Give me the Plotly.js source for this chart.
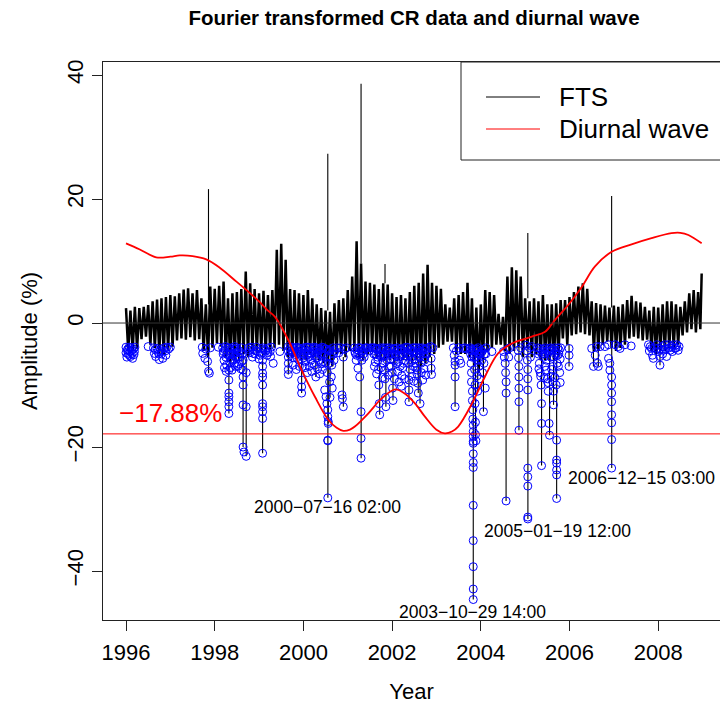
<!DOCTYPE html>
<html><head><meta charset="utf-8">
<script src="https://cdn.plot.ly/plotly-3.0.1.min.js"></script>
<style>html,body{margin:0;padding:0;background:#fff}#chart{width:720px;height:704px}</style>
</head><body><div id="chart"></div>
<script>
// FTS hourly series summarised per 0.1-year bin (upper / lower envelope)
const binStartYear = 1996.0;
const binStep = 0.1;
const ftsHigh = [2.4,2.0,2.6,2.4,2.6,2.9,3.5,3.8,4.0,4.2,
 4.5,4.3,4.8,5.4,5.6,4.8,5.3,4.0,3.0,5.9,
 5.5,6.0,6.7,4.0,4.8,5.0,5.5,8.3,6.4,5.5,
 4.8,5.2,4.5,5.3,11.8,12.8,10.2,5.5,5.3,4.8,
 4.5,5.3,4.0,3.0,2.4,2.0,1.8,3.2,3.7,4.0,
 5.3,7.5,13.2,9.6,6.7,6.5,6.2,5.5,6.4,6.2,
 4.8,4.2,4.5,4.0,5.0,6.0,6.5,8.0,9.4,6.5,
 6.0,5.5,3.0,2.5,4.0,4.5,5.0,6.5,4.0,2.5,
 3.0,5.3,5.0,4.5,1.5,1.0,7.5,9.0,8.5,7.5,
 4.0,3.5,4.0,3.5,4.5,3.0,3.0,3.2,3.7,3.7,
 4.2,5.0,5.9,6.4,5.5,3.5,3.2,3.0,2.8,2.5,
 2.8,2.6,3.0,3.7,4.4,3.5,3.3,2.6,2.0,2.6,
 2.5,3.0,3.5,3.5,3.0,2.6,3.5,4.8,5.3,5.0];
const ftsLow = [-4.5,-4.5,-4.2,-2.6,-2.2,-3.5,-4.0,-5.0,-5.0,-4.3,
 -3.8,-2.8,-2.5,-2.7,-2.3,-2.8,-2.6,-4.5,-5.5,-4.0,
 -3.2,-3.8,-5.5,-6.5,-6.0,-6.0,-5.0,-5.5,-4.5,-4.8,
 -4.5,-5.0,-4.3,-4.0,-3.5,-4.5,-5.5,-5.5,-5.5,-5.5,
 -6.0,-5.0,-5.5,-6.0,-6.5,-7.0,-7.0,-5.0,-5.0,-5.5,
 -4.5,-4.5,-5.5,-6.0,-5.0,-4.5,-5.5,-6.0,-6.0,-6.0,
 -6.5,-6.0,-6.0,-6.0,-6.5,-6.0,-7.0,-6.5,-5.5,-5.0,
 -4.0,-3.5,-3.0,-3.0,-5.0,-5.0,-5.0,-5.5,-7.0,-8.0,
 -6.0,-4.5,-4.0,-3.5,-3.5,-4.5,-5.0,-4.5,-4.0,-5.5,
 -4.0,-5.5,-5.0,-6.0,-6.0,-6.0,-6.0,-5.5,-2.5,-3.5,
 -2.0,-1.8,-1.5,-1.8,-2.0,-4.5,-4.5,-3.5,-3.0,-4.0,
 -4.5,-4.0,-3.5,-2.5,-2.2,-2.5,-2.8,-2.7,-4.5,-5.0,
 -4.5,-4.5,-4.0,-4.0,-3.5,-2.0,-1.5,-1.0,-1.5,-1.0];
const ftsLastYear = 2008.98;
const ftsLastValue = 8.0;

// isolated upward spikes
const spikeYears  = [1997.86, 2000.55, 2001.30, 2001.84, 2005.06, 2006.95];
const spikeValues = [21.6, 27.3, 38.6, 9.5, 14.5, 20.5];

// downward excursions
const dipYears  = [1997.862,1998.32,1998.64,1998.71,1999.08,1999.66,1999.96,2000.28,2000.552,2000.56,2000.60,2000.90,2001.302,2001.72,2001.86,2002.02,2002.38,2002.59,2002.63,2002.89,2003.42,2003.83,2003.88,2003.93,2004.06,2004.57,2004.86,2005.062,2005.37,2005.55,2005.64,2005.71,2005.99,2006.54,2006.65,2006.952,2008.04];
const dipValues = [-8.1,-14.6,-20.0,-21.5,-21.0,-8.3,-11.3,-8.7,-28.2,-16.2,-12.0,-13.5,-21.8,-14.8,-13.5,-12.5,-12.7,-11.3,-13.0,-8.3,-13.5,-44.6,-19.0,-11.0,-14.3,-28.7,-17.3,-31.6,-23.0,-18.1,-13.2,-28.3,-7.0,-7.0,-7.0,-23.4,-6.8];

// hours flagged below the threshold (blue circles)
const circleYears = [
 1996.00,1996.00,1996.02,1996.04,1996.05,1996.07,1996.09,1996.10,1996.12,1996.14,1996.15,1996.17,1996.19,1996.20,
 1996.50,
 1996.62,1996.64,1996.67,1996.70,1996.72,1996.75,1996.78,1996.80,1996.83,1996.86,1996.89,1996.92,1996.96,1997.00,
 1997.72,1997.73,1997.78,1997.80,1997.84,1997.86,1997.88,1997.90,1998.08,
 1998.18,1998.19,1998.21,1998.23,1998.25,1998.27,1998.29,1998.31,1998.34,1998.36,1998.38,1998.40,1998.42,1998.44,1998.46,1998.48,1998.50,1998.52,1998.55,1998.57,1998.60,1998.62,
 1998.32,1998.32,1998.32,1998.32,1998.32,1998.32,1998.32,
 1998.64,1998.64,1998.64,1998.64,1998.64,1998.64,1998.66,1998.71,1998.71,1998.71,
 1998.76,1998.79,1998.82,1998.85,1998.88,1998.91,1998.94,1998.97,1999.00,1999.03,1999.06,1999.09,1999.15,1999.18,1999.21,1999.25,1999.28,
 1999.08,1999.08,1999.08,1999.08,1999.08,1999.08,1999.08,1999.08,1999.08,1999.08,
 1999.32,1999.47,1999.66,1999.66,1999.66,1999.66,1999.66,1999.66,1999.70,1999.70,
 1999.74,1999.76,1999.78,1999.80,1999.83,1999.86,1999.88,1999.90,1999.93,1999.95,1999.96,1999.96,1999.96,1999.98,2000.00,2000.02,2000.05,2000.07,2000.10,2000.12,2000.15,2000.18,2000.20,2000.23,2000.26,2000.28,2000.30,2000.33,2000.36,2000.38,2000.41,2000.43,2000.45,
 2000.47,2000.48,2000.50,2000.51,2000.52,2000.53,2000.54,2000.55,2000.55,2000.56,2000.56,2000.55,2000.55,2000.55,2000.58,2000.59,2000.60,2000.62,2000.63,2000.65,2000.67,2000.69,2000.71,
 2000.76,2000.80,2000.84,2000.87,2000.88,2000.90,2000.90,2000.93,2000.97,
 2001.15,2001.17,2001.19,2001.21,2001.23,2001.25,2001.27,2001.29,2001.30,2001.30,2001.30,2001.32,2001.34,2001.37,2001.40,
 2001.56,2001.59,2001.62,2001.64,2001.67,2001.69,2001.70,2001.71,2001.72,2001.74,2001.77,2001.80,2001.82,2001.84,2001.85,2001.86,2001.88,2001.90,2001.93,2001.95,2001.97,2002.00,2002.01,2002.02,2002.04,2002.07,2002.10,2002.12,2002.15,2002.18,2002.20,2002.22,2002.25,2002.27,2002.30,
 2002.33,2002.35,2002.37,2002.38,2002.38,2002.38,2002.40,2002.43,2002.46,2002.48,2002.50,2002.52,2002.55,2002.57,2002.58,2002.59,2002.60,2002.62,2002.63,2002.65,2002.68,2002.70,2002.73,2002.75,2002.78,2002.80,
 2002.87,2002.88,2002.88,2002.89,2002.92,
 2003.38,2003.40,2003.42,2003.42,2003.42,2003.42,2003.45,2003.50,2003.52,2003.55,2003.60,2003.64,2003.68,
 2003.76,2003.77,2003.78,2003.79,2003.79,2003.80,2003.81,2003.81,2003.82,2003.82,2003.83,2003.83,2003.83,2003.83,2003.83,2003.83,2003.83,2003.83,2003.83,2003.83,2003.83,2003.83,2003.83,2003.85,2003.86,2003.87,2003.87,2003.88,2003.88,2003.89,2003.90,2003.91,2003.92,2003.93,2003.94,2003.95,2003.96,2003.97,2004.00,2004.02,2004.04,2004.06,2004.06,2004.08,2004.10,2004.12,
 2004.25,
 2004.51,2004.53,2004.55,2004.56,2004.57,2004.57,2004.57,2004.60,2004.63,2004.65,
 2004.84,2004.85,2004.86,2004.86,2004.86,2004.86,2004.86,2004.90,
 2005.02,2005.04,2005.05,2005.06,2005.06,2005.06,2005.06,2005.06,2005.06,2005.06,2005.06,2005.10,2005.12,2005.15,
 2005.28,2005.30,2005.32,2005.34,2005.36,2005.37,2005.37,2005.37,2005.40,2005.42,2005.44,2005.46,2005.48,2005.50,2005.52,2005.54,2005.55,2005.56,2005.58,2005.60,2005.62,2005.64,2005.64,2005.66,2005.68,2005.70,2005.71,2005.71,2005.71,2005.71,2005.71,2005.71,2005.72,2005.74,2005.76,2005.78,2005.80,
 2005.99,2005.99,2005.99,
 2006.50,2006.54,2006.58,2006.61,2006.63,2006.65,2006.69,
 2006.80,2006.88,2006.88,2006.91,2006.91,2006.95,2006.95,2006.95,2006.95,2006.95,2006.95,2006.95,2006.95,2007.03,2007.10,2007.14,2007.25,2007.39,
 2007.78,2007.82,2007.85,2007.87,2007.89,2007.97,2008.00,2008.04,2008.04,2008.08,2008.12,2008.15,2008.19,2008.23,2008.27,2008.30,2008.34,2008.38,2008.42,2008.47];
const circleValues = [
 -3.9,-4.8,-5.5,-4.2,-5.0,-3.9,-4.6,-5.4,-4.0,-4.9,-5.7,-4.2,-4.6,-3.9,
 -3.8,
 -4.0,-4.9,-5.4,-4.1,-4.6,-5.9,-4.3,-5.0,-5.7,-4.0,-4.5,-3.9,-4.2,-3.9,
 -3.9,-4.9,-5.7,-4.2,-6.2,-7.8,-8.1,-4.0,-3.9,
 -4.0,-5.0,-6.0,-4.3,-5.5,-6.8,-4.0,-5.2,-6.3,-4.5,-5.8,-4.0,-5.0,-6.5,-4.2,-5.5,-4.0,-7.0,-4.5,-5.5,-4.0,-5.0,
 -7.6,-9.2,-11.3,-11.9,-12.7,-13.5,-14.6,
 -6.0,-7.6,-8.7,-10.0,-13.2,-20.0,-20.8,-21.5,-13.5,-8.0,
 -4.0,-4.8,-3.9,-5.5,-4.3,-5.0,-3.9,-4.6,-5.8,-4.1,-4.9,-4.0,-4.5,-5.2,-4.0,-4.6,-3.9,
 -6.0,-7.0,-8.1,-8.7,-10.0,-13.0,-13.5,-14.3,-15.4,-21.0,
 -6.5,-4.6,-3.8,-4.5,-5.5,-6.5,-7.5,-8.3,-4.0,-5.0,
 -3.9,-4.8,-5.6,-4.2,-5.1,-3.9,-4.6,-6.0,-4.1,-5.3,-9.2,-10.3,-11.3,-7.0,-4.0,-4.9,-6.2,-3.9,-4.5,-5.5,-4.0,-5.0,-6.5,-4.2,-5.4,-8.7,-4.0,-4.8,-6.0,-4.3,-5.2,-7.5,-4.0,
 -5.0,-10.8,-6.5,-11.9,-4.2,-13.0,-8.0,-14.0,-15.1,-15.9,-16.2,-18.9,-19.0,-28.2,-4.5,-9.5,-12.0,-5.5,-8.7,-10.5,-4.0,-6.0,-4.5,
 -4.0,-4.8,-4.0,-11.6,-12.2,-13.5,-5.5,-4.2,-4.0,
 -4.0,-4.9,-6.0,-4.3,-7.3,-5.0,-8.7,-4.0,-14.3,-18.6,-21.8,-6.0,-4.5,-5.5,-4.0,
 -4.0,-5.0,-6.3,-4.2,-5.5,-7.5,-10.0,-13.0,-14.8,-4.0,-5.0,-6.5,-4.3,-9.0,-12.0,-13.5,-4.0,-5.2,-7.0,-4.0,-5.8,-8.0,-10.5,-12.5,-4.2,-5.0,-6.5,-4.0,-5.5,-7.0,-4.2,-8.5,-5.0,-4.0,-6.0,
 -3.9,-4.9,-6.5,-9.2,-10.8,-12.7,-4.3,-5.5,-4.0,-7.0,-4.5,-5.8,-4.0,-7.6,-9.7,-11.3,-4.4,-5.5,-13.0,-6.5,-4.0,-5.0,-6.0,-4.2,-5.0,-4.0,
 -3.8,-5.7,-7.3,-8.3,-4.0,
 -4.0,-5.2,-6.2,-6.8,-8.7,-13.5,-4.5,-4.0,-6.0,-6.5,-4.1,-4.0,-4.2,
 -4.0,-5.0,-6.5,-8.0,-9.5,-4.5,-11.0,-12.5,-14.0,-15.5,-16.5,-17.5,-18.3,-19.1,-19.4,-21.1,-22.5,-23.3,-29.4,-35.1,-39.3,-42.9,-44.6,-5.5,-7.5,-10.0,-13.0,-16.0,-18.0,-19.0,-4.2,-6.0,-8.5,-11.0,-4.0,-5.0,-7.0,-9.0,-4.5,-6.0,-8.0,-4.2,-14.3,-5.0,-10.5,-4.0,
 -4.6,
 -4.6,-5.5,-6.5,-8.0,-9.5,-11.3,-28.7,-4.2,-5.5,-4.0,
 -4.4,-5.6,-7.0,-8.7,-10.5,-12.7,-17.3,-4.0,
 -3.6,-4.5,-6.0,-7.5,-9.0,-10.8,-23.4,-24.8,-26.3,-31.3,-31.6,-4.0,-5.5,-3.8,
 -4.0,-5.0,-6.5,-8.0,-10.0,-13.0,-16.2,-23.0,-4.2,-5.5,-7.0,-4.0,-6.0,-9.0,-11.0,-16.2,-18.1,-4.5,-5.5,-7.5,-9.5,-11.0,-13.2,-4.0,-5.0,-10.0,-18.9,-22.1,-22.6,-23.7,-24.5,-28.3,-6.5,-4.0,-5.0,-8.0,-4.0,
 -4.1,-5.2,-7.0,
 -4.1,-7.0,-5.2,-3.8,-6.5,-7.0,-3.8,
 -3.8,-3.5,-5.7,-6.5,-7.6,-8.7,-10.0,-11.3,-12.7,-14.8,-16.1,-18.8,-23.4,-3.5,-3.8,-4.1,-3.5,-3.7,
 -3.5,-3.8,-4.1,-5.2,-5.7,-3.5,-4.6,-5.4,-6.8,-3.8,-4.4,-3.5,-5.4,-3.5,-4.4,-3.8,-3.5,-4.1,-3.5,-3.8];

// extra flagged hours inside the densest blue clusters
const denseCircleYears = [
 1996.03,1996.08,1996.13,1996.18,
 1996.66,1996.74,1996.82,1996.90,
 1998.20,1998.24,1998.28,1998.33,1998.37,1998.41,1998.45,1998.49,1998.53,1998.58,1998.61,
 1998.22,1998.26,1998.35,1998.39,1998.47,1998.54,1998.59,
 1998.80,1998.87,1998.93,1999.02,1999.12,1999.20,1999.26,
 1999.75,1999.79,1999.82,1999.85,1999.89,1999.92,1999.97,2000.01,2000.04,2000.08,2000.11,2000.14,2000.17,2000.21,2000.24,2000.27,2000.31,2000.35,2000.39,2000.42,2000.44,
 1999.77,1999.84,1999.91,2000.03,2000.09,2000.13,2000.19,2000.25,2000.32,2000.37,2000.40,
 2000.49,2000.53,2000.57,2000.61,2000.64,2000.68,
 2001.16,2001.20,2001.24,2001.28,2001.31,2001.35,2001.38,2001.44,2001.48,2001.52,
 2001.58,2001.61,2001.63,2001.66,2001.68,2001.73,2001.76,2001.79,2001.81,2001.83,2001.87,2001.89,2001.92,2001.94,2001.96,2001.99,2002.03,2002.06,2002.09,2002.11,2002.14,2002.17,2002.19,2002.23,2002.26,2002.29,2002.32,2002.36,2002.39,2002.42,2002.45,2002.47,2002.51,2002.54,2002.56,2002.61,2002.64,2002.67,2002.71,2002.74,2002.77,
 2001.60,2001.65,2001.75,2001.78,2001.83,2001.91,2001.98,2002.05,2002.13,2002.16,2002.21,2002.24,2002.28,
 2002.41,2002.44,2002.49,2002.53,2002.56,2002.66,2002.69,2002.72,2002.76,
 2003.77,2003.80,2003.84,2003.86,2003.89,2003.92,2003.95,2003.99,2004.03,2004.07,2004.11,
 2005.29,2005.33,2005.38,2005.41,2005.45,2005.49,2005.53,2005.57,2005.61,2005.65,2005.69,2005.73,2005.77,2005.79,
 2005.31,2005.35,2005.43,2005.47,2005.51,2005.59,2005.63,2005.67,2005.75,2005.79,
 2007.80,2007.91,2007.99,2008.06,2008.10,2008.17,2008.25,2008.32,2008.40,2008.45];
const denseCircleValues = [
 -4.4,-5.2,-4.4,-5.1,
 -4.3,-5.0,-4.6,-5.2,
 -4.6,-3.8,-5.0,-4.0,-5.0,-6.0,-3.8,-4.8,-5.5,-4.8,-6.2,
 -7.2,-7.8,-7.2,-7.6,-7.0,-6.6,-7.4,
 -4.4,-4.9,-4.5,-5.2,-4.3,-4.8,-5.4,
 -4.4,-4.0,-4.7,-5.6,-4.1,-5.0,-4.4,-5.6,-4.3,-5.2,-3.9,-4.8,-6.0,-4.6,-3.9,-4.7,-5.6,-4.2,-5.0,-3.9,-6.2,
 -6.8,-7.5,-7.0,-7.2,-8.0,-7.0,-7.8,-6.8,-7.4,-8.2,-6.6,
 -4.2,-5.5,-6.5,-4.3,-6.8,-5.0,
 -4.6,-5.2,-4.0,-5.4,-4.5,-5.0,-4.3,-4.0,-4.5,-4.0,
 -4.4,-4.0,-5.0,-4.2,-6.0,-5.2,-4.3,-5.5,-4.0,-5.2,-4.6,-6.0,-4.4,-5.0,-4.3,-5.0,-6.0,-4.1,-5.4,-4.5,-6.2,-4.3,-5.2,-4.4,-6.5,-4.6,-5.3,-4.0,-5.2,-4.4,-6.0,-4.6,-4.0,-6.5,-5.0,-4.0,-5.0,-4.6,-4.2,-5.5,-4.3,
 -7.0,-8.2,-7.2,-8.8,-7.6,-8.4,-7.0,-9.0,-7.8,-9.5,-10.2,-7.2,-9.0,
 -7.5,-8.6,-9.4,-7.2,-8.2,-8.0,-9.2,-7.4,-8.4,
 -4.3,-5.5,-4.2,-4.5,-5.5,-4.5,-6.0,-5.0,-4.6,-6.5,-5.0,
 -4.5,-4.1,-5.0,-4.6,-5.0,-4.5,-4.1,-4.0,-4.3,-5.5,-4.4,-5.2,-4.4,-5.8,
 -7.4,-8.6,-8.8,-7.6,-9.6,-8.6,-7.0,-8.8,-7.0,-9.6,
 -4.5,-4.0,-4.1,-4.2,-5.0,-4.2,-4.0,-4.6,-4.0,-4.4];

// diurnal wave
const diurnalYears  = [1996.0,1996.3,1996.68,1997.0,1997.21,1997.5,1997.81,1998.1,1998.49,1998.75,1999.01,1999.2,1999.36,1999.66,1999.96,2000.26,2000.56,2000.75,2000.9,2001.05,2001.16,2001.46,2001.76,2002.07,2002.29,2002.52,2002.74,2003.0,2003.19,2003.35,2003.49,2003.8,2004.09,2004.39,2004.7,2005.15,2005.45,2005.67,2005.97,2006.28,2006.57,2006.95,2007.4,2007.85,2008.3,2008.5,2008.68,2008.98];
const diurnalValues = [12.85,11.9,10.6,10.7,10.9,10.8,10.27,9.0,6.67,5.1,3.4,2.0,1.0,-2.74,-7.6,-11.9,-15.6,-16.9,-17.4,-17.2,-16.7,-14.6,-12.2,-10.7,-11.4,-13.0,-15.1,-17.2,-17.8,-17.5,-16.7,-13.0,-8.7,-4.9,-3.3,-2.2,-1.4,0.48,2.9,5.86,9.1,11.5,12.7,13.7,14.5,14.55,14.2,12.85];

const thresholdValue = -17.88;
const thresholdLabel = "\u221217.88%";
const xTickVals = [1996,1998,2000,2002,2004,2006,2008];
const yTickVals = [-40,-20,0,20,40];
const yTickText = ["\u221240","\u221220","0","20","40"];
const eventLabels = ["2000\u221207\u221216 02:00","2003\u221210\u221229 14:00","2005\u221201\u221219 12:00","2006\u221212\u221215 03:00"];
const eventLabelYears  = [2000.532, 2003.817, 2005.718, 2007.628];
const eventLabelValues = [-29.6, -46.56, -33.5, -25.05];
const legendNames = ["FTS","Diurnal wave"];

// FTS band: zigzag between the per-bin envelopes
const bandX = [], bandY = [];
ftsHigh.forEach((v,i)=>{ const t = binStartYear + i*binStep; bandX.push(t, t + binStep/2); bandY.push(v, ftsLow[i]); });
bandX.push(ftsLastYear); bandY.push(ftsLastValue);

// isolated excursions drawn as thin strokes from the band edge
const excX = [], excY = [];
const binOf = t => Math.min(ftsHigh.length-1, Math.max(0, Math.floor((t - binStartYear)/binStep + 1e-9)));
spikeYears.forEach((t,i)=>{ excX.push(t, t, null); excY.push(ftsHigh[binOf(t)], spikeValues[i], null); });
dipYears.forEach((t,i)=>{ excX.push(t, t, null); excY.push(ftsLow[binOf(t)], dipValues[i], null); });

const FONT = 'Liberation Sans, Arial, Helvetica, sans-serif';
const X0 = 1995.4814, X1 = 2009.3934, Y0 = -47.9, Y1 = 42.1;

const traces = [
 {x: bandX, y: bandY, type:'scatter', mode:'lines', name: legendNames[0],
  line:{color:'#000', width:2.5}, hoverinfo:'skip', showlegend:false},
 {x: excX, y: excY, type:'scatter', mode:'lines', name: legendNames[0] + ' excursions',
  line:{color:'#000', width:1.1}, connectgaps:false, hoverinfo:'skip', showlegend:false},
 {x: circleYears.concat(denseCircleYears), y: circleValues.concat(denseCircleValues), type:'scatter', mode:'markers', name:'below threshold',
  marker:{symbol:'circle-open', size:8, color:'#0000ff', line:{width:1, color:'#0000ff'}}, showlegend:false},
 {x: diurnalYears, y: diurnalValues, type:'scatter', mode:'lines', name: legendNames[1],
  line:{color:'#ff0000', width:1.8, shape:'spline', smoothing:1}, showlegend:false}
];

// pixel helpers for the R-style legend (paper coordinates)
const L=103, R=720, T=62, B=620;
const px = v => (v-L)/(R-L);
const py = v => (B-v)/(B-T);

const shapes = [
 {type:'line', xref:'paper', yref:'y', x0:0, x1:1, y0:0, y1:0, line:{color:'#333', width:1}},
 {type:'line', xref:'paper', yref:'y', x0:0, x1:1, y0:thresholdValue, y1:thresholdValue, line:{color:'#ff0000', width:1}},
 {type:'rect', xref:'paper', yref:'paper', x0:px(461), x1:px(740), y0:py(160), y1:py(62), line:{color:'#222', width:1}, fillcolor:'#fff', layer:'above'},
 {type:'line', xref:'paper', yref:'paper', x0:px(486), x1:px(540), y0:py(97), y1:py(97), line:{color:'#000', width:1}},
 {type:'line', xref:'paper', yref:'paper', x0:px(486), x1:px(540), y0:py(129), y1:py(129), line:{color:'#ff0000', width:1}}
];

const annotations = [
 {xref:'paper', yref:'paper', x:px(557), y:py(97), xanchor:'left', yanchor:'middle', text:legendNames[0], showarrow:false, font:{family:FONT, size:26, color:'#000'}},
 {xref:'paper', yref:'paper', x:px(557), y:py(129), xanchor:'left', yanchor:'middle', text:legendNames[1], showarrow:false, font:{family:FONT, size:26, color:'#000'}},
 {xref:'x', yref:'y', x:1997.003, y:-14.57, xanchor:'center', yanchor:'middle', text:thresholdLabel, showarrow:false, font:{family:FONT, size:26, color:'#ff0000'}}
];
eventLabels.forEach((t,i)=>annotations.push({xref:'x', yref:'y', x:eventLabelYears[i], y:eventLabelValues[i], xanchor:'center', yanchor:'middle', text:t, showarrow:false, font:{family:FONT, size:17.5, color:'#000'}}));

const layout = {
 width:720, height:704,
 margin:{l:L, r:720-R, t:T, b:704-B, pad:0},
 paper_bgcolor:'#fff', plot_bgcolor:'#fff',
 font:{family:FONT, color:'#000'},
 showlegend:false,
 title:{text:'<b>Fourier transformed CR data and diurnal wave</b>', font:{family:FONT, size:20.5, color:'#000'},
   xref:'container', x:414/720, xanchor:'center', yref:'container', y:1-18/704, yanchor:'middle'},
 xaxis:{range:[X0,X1], tickmode:'array', tickvals:xTickVals, ticks:'outside', ticklen:10, tickwidth:1, tickcolor:'#222',
   showline:true, mirror:true, linecolor:'#222', linewidth:1, showgrid:false, zeroline:false,
   ticklabelstandoff:3,
   tickfont:{family:FONT, size:22, color:'#000'},
   title:{text:'Year', font:{family:FONT, size:22, color:'#000'}, standoff:20}},
 yaxis:{range:[Y0,Y1], tickmode:'array', tickvals:yTickVals, ticktext:yTickText, tickangle:-90, ticks:'outside', ticklen:10, tickwidth:1, tickcolor:'#222',
   showline:true, mirror:false, linecolor:'#222', linewidth:1, showgrid:false, zeroline:false,
   tickfont:{family:FONT, size:22, color:'#000'},
   title:{text:'Amplitude (%)', font:{family:FONT, size:22, color:'#000'}, standoff:19}},
 shapes: shapes,
 annotations: annotations
};

Plotly.newPlot('chart', traces, layout, {staticPlot:true, displayModeBar:false});
</script></body></html>
